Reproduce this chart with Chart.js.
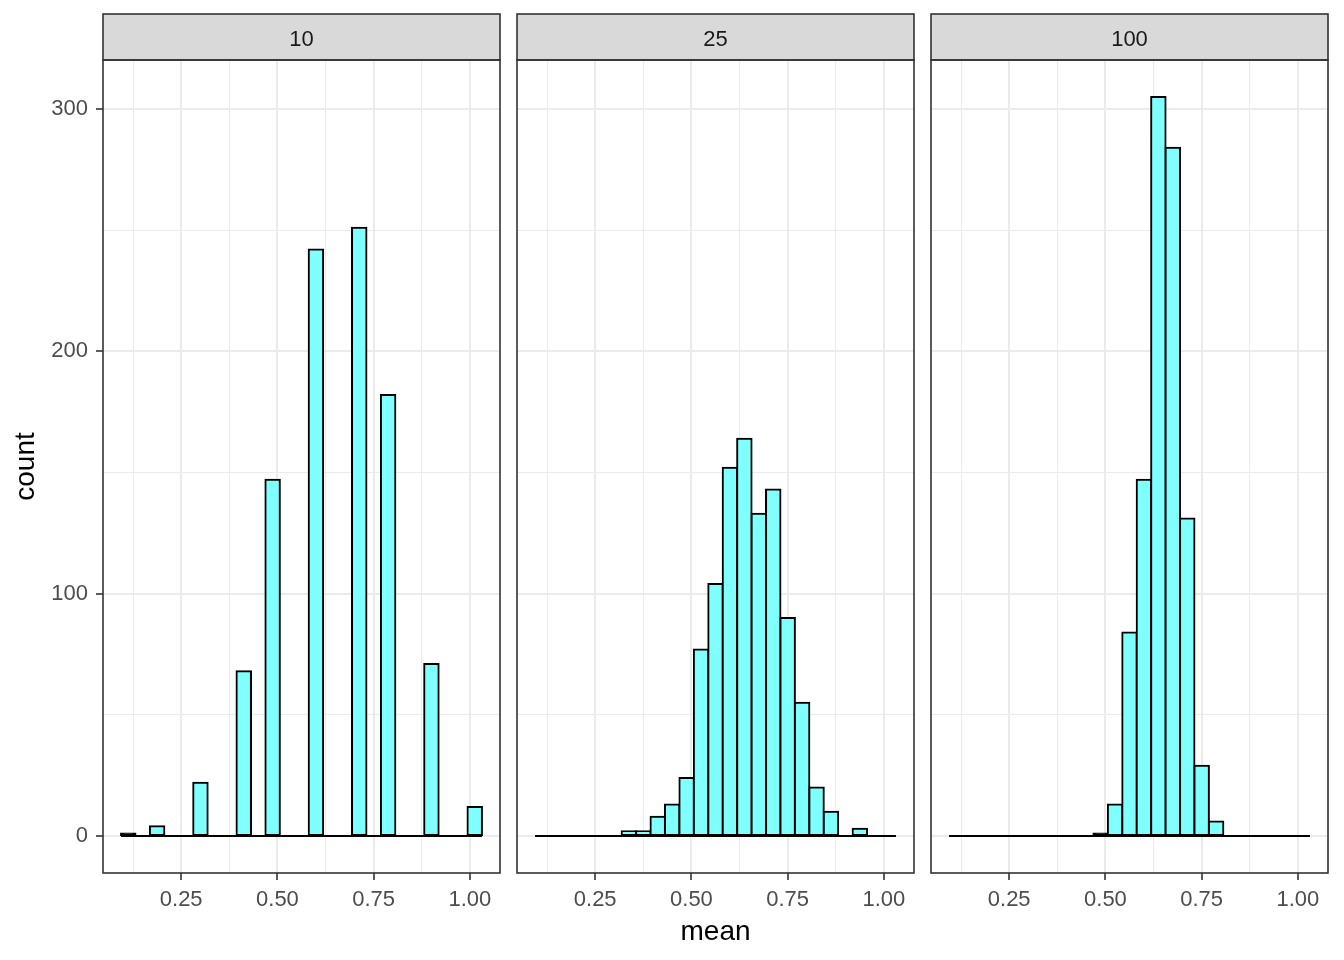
<!DOCTYPE html>
<html>
<head>
<meta charset="utf-8">
<title>mean by sample size</title>
<script src="https://cdn.jsdelivr.net/npm/chart.js@4.4.1/dist/chart.umd.min.js"></script>
<style>
  html, body { margin: 0; padding: 0; background: #fff; }
  #wrap { position: relative; width: 1344px; height: 960px; }
  #wrap canvas { position: absolute; left: 0; top: 0; }
</style>
</head>
<body>
<div id="wrap">
  <canvas id="p0" width="1344" height="960"></canvas>
  <canvas id="p1" width="1344" height="960"></canvas>
  <canvas id="p2" width="1344" height="960"></canvas>
</div>
<script>
// histogram bins (same 25 bins in every facet, width 0.0375)
const binCenters = [0.1125, 0.15, 0.1875, 0.225, 0.2625, 0.3, 0.3375, 0.375, 0.4125, 0.45,
  0.4875, 0.525, 0.5625, 0.6, 0.6375, 0.675, 0.7125, 0.75, 0.7875, 0.825,
  0.8625, 0.9, 0.9375, 0.975, 1.0125];
const binWidth = 0.0375;

const panelLabels = ['10', '25', '100'];
const counts10 = [1, 0, 4, 0, 0, 22, 0, 0, 68, 0, 147, 0, 0, 242, 0, 0, 251, 0, 182, 0, 0, 71, 0, 0, 12];
const counts25 = [0, 0, 0, 0, 0, 0, 2, 2, 8, 13, 24, 77, 104, 152, 164, 133, 143, 90, 55, 20, 10, 0, 3, 0, 0];
const counts100 = [0, 0, 0, 0, 0, 0, 0, 0, 0, 0, 1, 13, 84, 147, 305, 284, 131, 29, 6, 0, 0, 0, 0, 0, 0];

const xBreaks = [0.25, 0.5, 0.75, 1.0];
const xMinor = [0.125, 0.375, 0.625, 0.875];
const yBreaks = [0, 100, 200, 300];
const yMinor = [50, 150, 250];

// panel placement in the 1344x960 page
const panelLeft = [103, 517, 931];
const panelRight = [500, 914, 1328];
const FONT = '"Liberation Sans", Arial, sans-serif';

const isMajor = (list, v) => list.some(b => Math.abs(b - v) < 1e-9);

// facet strip on top + panel border
const stripPlugin = {
  id: 'strip',
  afterDraw(chart, args, opts) {
    const { ctx, chartArea: a } = chart;
    const w = a.right - a.left;
    ctx.save();
    ctx.fillStyle = '#D9D9D9';
    ctx.fillRect(a.left, 14, w, a.top - 14);
    ctx.strokeStyle = '#333333';
    ctx.lineWidth = 1.6;
    ctx.strokeRect(a.left, 14, w, a.top - 14);
    ctx.strokeRect(a.left, a.top, w, a.bottom - a.top);
    ctx.fillStyle = '#1A1A1A';
    ctx.font = '22px ' + FONT;
    ctx.textAlign = 'center';
    ctx.textBaseline = 'middle';
    ctx.fillText(opts.text, (a.left + a.right) / 2, 40);
    ctx.restore();
  }
};

function makePanel(i, counts) {
  const first = i === 0;
  new Chart(document.getElementById('p' + i), {
    type: 'bar',
    data: {
      datasets: [
        {
          type: 'line',
          data: [
            { x: binCenters[0] - binWidth / 2, y: 0 },
            { x: binCenters[binCenters.length - 1] + binWidth / 2, y: 0 }
          ],
          borderColor: '#000',
          borderWidth: 2,
          pointRadius: 0,
          order: 0
        },
        {
          data: binCenters.map((x, k) => ({ x: x, y: counts[k] })),
          // very short bars end up all outline, as in the original
          backgroundColor: (c) => (c.raw && c.raw.y > 0 && c.raw.y < 2) ? '#000' : '#80FFFF',
          borderColor: '#000',
          borderWidth: 2,
          borderSkipped: false,
          inflateAmount: 1,
          barPercentage: 1,
          categoryPercentage: 1,
          order: 1
        }
      ]
    },
    options: {
      responsive: false,
      animation: false,
      events: [],
      layout: {
        padding: { left: first ? 0 : panelLeft[i], right: 1344 - panelRight[i], top: 60, bottom: 0 }
      },
      plugins: {
        legend: { display: false },
        tooltip: { enabled: false },
        strip: { text: panelLabels[i] }
      },
      scales: {
        x: {
          type: 'linear',
          offset: false,
          min: 0.046875,
          max: 1.078125,
          border: { display: false },
          afterBuildTicks: (axis) => {
            axis.ticks = xMinor.concat(xBreaks).sort((a, b) => a - b).map(v => ({ value: v }));
          },
          afterFit: (axis) => { axis.height = 87; },
          grid: {
            offset: false,
            color: '#EBEBEB',
            lineWidth: (c) => (c.tick && isMajor(xBreaks, c.tick.value)) ? 2 : 1,
            tickLength: 7,
            tickColor: (c) => (c.tick && isMajor(xBreaks, c.tick.value)) ? '#333333' : 'rgba(0,0,0,0)',
            tickWidth: 1.6
          },
          ticks: {
            autoSkip: false,
            maxRotation: 0,
            padding: 7,
            color: '#4D4D4D',
            font: { family: FONT, size: 22 },
            callback: (v) => isMajor(xBreaks, v) ? v.toFixed(2) : ''
          },
          title: {
            display: i === 1,
            text: 'mean',
            color: '#000',
            font: { family: FONT, size: 28 },
            padding: { top: 0, bottom: 11 }
          }
        },
        y: {
          type: 'linear',
          min: -15.25,
          max: 320.25,
          border: { display: false },
          afterBuildTicks: (axis) => {
            axis.ticks = yMinor.concat(yBreaks).sort((a, b) => a - b).map(v => ({ value: v }));
          },
          afterFit: (axis) => { axis.width = first ? 103 : 0; },
          grid: {
            color: '#EBEBEB',
            lineWidth: (c) => (c.tick && isMajor(yBreaks, c.tick.value)) ? 2 : 1,
            drawTicks: first,
            tickLength: 7,
            tickColor: (c) => (c.tick && isMajor(yBreaks, c.tick.value)) ? '#333333' : 'rgba(0,0,0,0)',
            tickWidth: 1.6
          },
          ticks: {
            display: first,
            autoSkip: false,
            padding: 8,
            color: '#4D4D4D',
            font: { family: FONT, size: 22 },
            callback: (v) => isMajor(yBreaks, v) ? String(v) : ''
          },
          title: {
            display: first,
            text: 'count',
            color: '#000',
            font: { family: FONT, size: 28 },
            padding: { top: 9, bottom: 0 }
          }
        }
      }
    },
    plugins: [stripPlugin]
  });
}

makePanel(0, counts10);
makePanel(1, counts25);
makePanel(2, counts100);
</script>
</body>
</html>
